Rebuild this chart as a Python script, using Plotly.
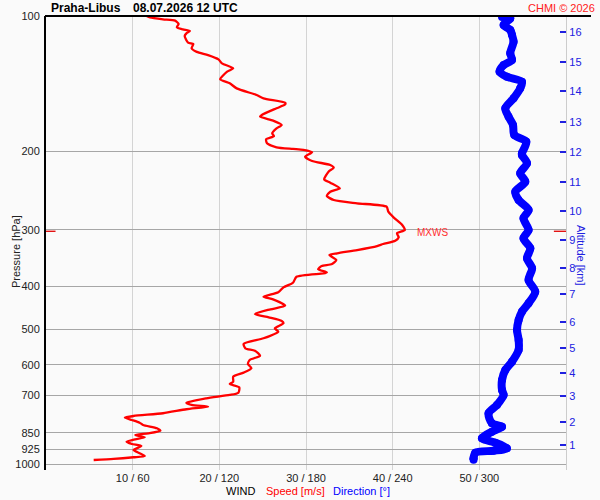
import plotly.graph_objects as go

# sounding Praha-Libus, wind speed profile (m/s) vs pressure (hPa)
speed_p = [100, 100.7, 101.7, 102.4, 104.2, 106.0, 107.1, 108.0, 109.3, 110.8,
           114.7, 115.5, 118.0, 120.2, 122.2, 124.9, 127.5, 130.8, 133.1, 138.4,
           141.3, 145.0, 150.0, 152.6, 156.1, 157.5, 160.6, 166.2, 167.6, 171.1,
           175.0, 178.0, 182.6, 185.2, 188.3, 192.2, 196.2, 197.9, 198.9, 201.3,
           205.9, 210.5, 214.9, 217.9, 222.4, 231.3, 235.3, 242.2, 246.5, 252.0,
           257.2, 261.6, 266.2, 273.1, 281.1, 292.4, 300.0, 305.1, 311.5, 317.0,
           322.4, 325.8, 332.5, 338.2, 341.2, 350.0, 357.3, 361.0, 367.1, 372.9,
           374.8, 381.4, 393.3, 402.7, 413.2, 422.6, 428.3, 442.6, 450.8, 461.8,
           469.7, 478.6, 484.4, 497.0, 505.7, 523.1, 538.6, 550.7, 557.4, 572.0,
           584.8, 596.9, 610.2, 624.1, 637.1, 653.7, 661.4, 672.8, 691.6, 699.8,
           711.8, 728.1, 736.7, 743.1, 753.1, 768.7, 779.6, 786.4, 795.7, 806.8,
           816.4, 830.4, 840.8, 852.0, 859.5, 869.7, 878.7, 889.6, 900.1, 909.5,
           928.3, 944.1, 957.2, 963.6, 972.1, 977.2]
speed = [11.6, 12.0, 13.5, 14.9, 15.3, 15.1, 15.8, 16.6, 16.2, 16.0,
         16.4, 17.0, 16.8, 17.4, 18.7, 19.9, 20.3, 21.6, 20.9, 20.1,
         21.2, 22.0, 24.3, 25.1, 27.6, 27.6, 26.6, 24.9, 24.7, 26.2,
         27.2, 26.6, 26.1, 26.3, 25.4, 25.5, 26.6, 28.5, 29.7, 30.7,
         29.9, 30.7, 32.8, 33.2, 32.6, 32.1, 32.8, 33.9, 32.8, 32.4,
         33.2, 35.9, 39.3, 39.5, 40.1, 41.1, 41.4, 40.5, 40.7, 40.3,
         38.9, 38.2, 35.9, 33.6, 32.7, 33.5, 33.0, 31.8, 31.4, 32.4,
         32.0, 28.9, 28.5, 27.4, 26.8, 25.1, 26.2, 27.6, 25.9, 24.1,
         25.7, 27.2, 27.4, 26.4, 26.8, 25.1, 22.8, 23.0, 24.1, 24.7,
         23.5, 23.3, 23.7, 22.8, 21.6, 21.6, 21.2, 22.3, 22.2, 21.2,
         18.5, 16.2, 16.8, 18.7, 16.2, 13.5, 10.1, 9.1, 9.9, 10.8,
         11.2, 12.8, 13.2, 11.8, 10.3, 11.4, 10.3, 9.3, 9.9, 11.0,
         10.1, 10.8, 11.4, 10.1, 7.8, 5.5]

# wind direction (deg) vs pressure (hPa)
dir_p = [100.5, 101.2, 104.7, 107.4, 110.2, 114.1, 121.1, 125.3, 128.6, 133.1,
         136.6, 140.1, 145.0, 152.6, 160.6, 167.6, 175.0, 184.2, 190.6, 202.4,
         204.2, 213.0, 224.2, 234.1, 246.5, 257.2, 270.7, 282.5, 300.1, 313.1,
         329.6, 346.8, 365.2, 387.8, 411.9, 437.0, 456.3, 476.2, 501.2, 527.6,
         555.5, 589.9, 615.7, 648.0, 682.1, 699.8, 736.7, 768.7, 809.2, 823.5,
         845.1, 874.3, 894.3, 920.5, 931.8, 941.5, 968.7, 976.0]
direction = [315.7, 321.4, 316.8, 321.4, 322.6, 323.7, 321.4, 322.6, 316.8, 314.0,
             319.1, 329.5, 328.3, 323.7, 318.0, 320.2, 323.3, 324.2, 332.5, 329.5,
             329.5, 333.0, 328.3, 331.8, 324.9, 327.2, 334.1, 330.6, 334.1, 330.6,
             335.3, 333.0, 336.5, 334.1, 338.7, 334.1, 329.5, 327.2, 326.1, 327.2,
             327.2, 322.6, 318.0, 315.7, 315.7, 316.8, 312.2, 306.4, 308.7, 315.7,
             308.7, 301.8, 311.0, 319.1, 309.8, 297.2, 296.0, 296.0]

# maximum wind level
mxws_p = 302

# axes
p_ticks = [100, 200, 300, 400, 500, 600, 700, 850, 925, 1000]
speed_ticks = [10, 20, 30, 40, 50]
speed_labels = ["10 / 60", "20 / 120", "30 / 180", "40 / 240", "50 / 300"]
alt_km = ["1", "2", "3", "4", "5", "6", "7", "8", "9", "10", "11", "12", "13", "14", "15", "16"]
alt_p = [904.4, 802.8, 705.3, 624.2, 550.7, 480.6, 417.4, 365.3, 315.8, 272.1,
         234.2, 200.7, 172.3, 147.0, 126.6, 108.6]

FONT = "Liberation Sans, Arial, sans-serif"
W, H = 600, 500
L, R, T, B = 46, 34, 16, 30


def px(x):
    # pixel -> paper fraction
    return (x - L) / (W - L - R)


def py(y):
    return (H - B - y) / (H - T - B)


fig = go.Figure()

fig.add_trace(go.Scatter(x=speed, y=speed_p, mode="lines",
                         line=dict(color="#ff0000", width=2.3, shape="spline", smoothing=0.6),
                         xaxis="x", yaxis="y", showlegend=False))
fig.add_trace(go.Scatter(x=direction, y=dir_p, mode="lines+markers",
                         line=dict(color="#0000ff", width=8, shape="spline", smoothing=0.8),
                         marker=dict(color="#0000ff", size=8),
                         xaxis="x2", yaxis="y2", showlegend=False))
# MXWS marks on both sides
for xs in ([0, 1.1], [58.6, 60]):
    fig.add_trace(go.Scatter(x=xs, y=[mxws_p, mxws_p], mode="lines",
                             line=dict(color="#e00000", width=1.3),
                             xaxis="x", yaxis="y", showlegend=False))

fig.update_layout(
    template="none",
    width=W, height=H,
    margin=dict(l=L, r=R, t=T, b=B, autoexpand=False),
    paper_bgcolor="#fafafa", plot_bgcolor="#fafafa",
    font=dict(family=FONT, size=11, color="#222"),
    xaxis=dict(range=[0, 60], tickvals=speed_ticks, ticktext=speed_labels,
               showgrid=True, gridcolor="#d4d4d4", gridwidth=1.3, automargin=False,
               zeroline=False, showline=False, ticks="", fixedrange=True),
    xaxis2=dict(range=[0, 360], overlaying="x", visible=False, anchor="y2"),
    yaxis=dict(type="log", range=[3.0123, 2], tickvals=p_ticks,
               ticktext=[str(v) for v in p_ticks], automargin=False,
               showgrid=True, gridcolor="#a6a6a6", gridwidth=1.2,
               zeroline=False, showline=True, linecolor="#000", linewidth=2,
               ticks="", ticklabelstandoff=2),
    yaxis2=dict(type="log", range=[3.0123, 2], overlaying="y", side="right",
                anchor="x", tickvals=alt_p, ticktext=alt_km, automargin=False,
                showgrid=False, zeroline=False,
                showline=True, linecolor="#cccccc", linewidth=1.3,
                ticks="inside", ticklen=6, tickwidth=1.5, tickcolor="#2020e0",
                tickfont=dict(color="#2020e0", size=11)),
)

fig.add_shape(type="line", xref="paper", yref="paper",
              x0=px(45), x1=px(591), y0=1, y1=1,
              line=dict(color="#000", width=2))

ann = [
    dict(text="<b>Praha-Libus</b>", x=px(49), y=py(8), xanchor="left", color="#000", size=12),
    dict(text="<b>08.07.2026 12 UTC</b>", x=px(130.5), y=py(8), xanchor="left", color="#000", size=12),
    dict(text="CHMI © 2026", x=px(597), y=py(8), xanchor="right", color="#ff2020", size=11),
    dict(text="WIND", x=px(224), y=py(491), xanchor="left", color="#000", size=11),
    dict(text="Speed [m/s]", x=px(264), y=py(491), xanchor="left", color="#ff0000", size=11),
    dict(text="Direction [°]", x=px(331), y=py(491), xanchor="left", color="#0000ff", size=11),
    dict(text="MXWS", x=px(415), y=py(232.5), xanchor="left", color="#ff3030", size=10),
]
for a in ann:
    fig.add_annotation(text=a["text"], x=a["x"], y=a["y"], xref="paper", yref="paper",
                       xanchor=a["xanchor"], yanchor="middle", showarrow=False,
                       font=dict(family=FONT, size=a["size"], color=a["color"]))

fig.add_annotation(text="Pressure [hPa]", x=px(8), y=py(252), xref="paper", yref="paper",
                   textangle=-90, showarrow=False,
                   font=dict(family=FONT, size=11, color="#222"))
fig.add_annotation(text="Altitude [km]", x=px(589), y=py(255), xref="paper", yref="paper",
                   textangle=90, showarrow=False,
                   font=dict(family=FONT, size=11, color="#2020e0"))

# drop the page's default body margin so the figure sits at the window corner
fig.write_html("out.html", config={"displayModeBar": False},
               post_script="document.body.style.margin='0';")
